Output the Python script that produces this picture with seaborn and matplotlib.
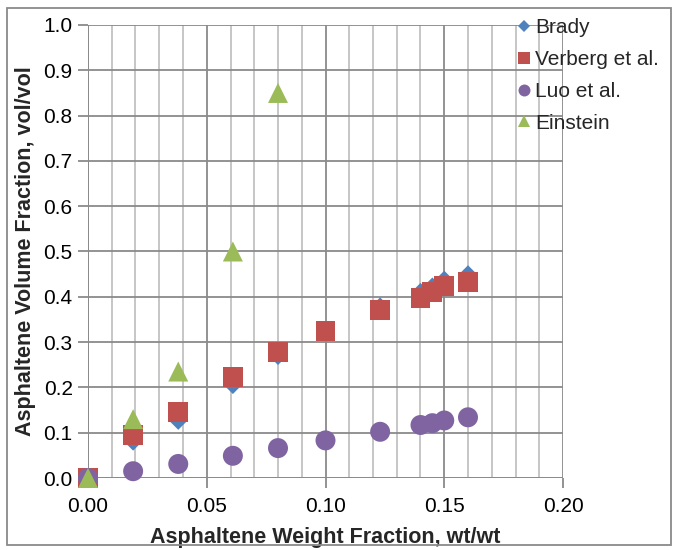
import matplotlib
matplotlib.use("Agg")
import matplotlib.pyplot as plt
from matplotlib.ticker import MultipleLocator, FormatStrFormatter
from matplotlib.lines import Line2D
import seaborn as sns
import pandas as pd

sns.set_theme(style="white")
plt.rcParams["font.family"] = ["Liberation Sans", "DejaVu Sans"]

# Asphaltene weight fractions (wt/wt)
wt_frac = [0.0, 0.019, 0.038, 0.061, 0.080, 0.100, 0.123, 0.140, 0.145, 0.150, 0.160]
wt_frac_einstein = [0.0, 0.019, 0.038, 0.061, 0.080]

# Volume fractions (vol/vol) by model
brady = [0.0, 0.079, 0.125, 0.204, 0.268, 0.325, 0.380, 0.412, 0.424, 0.439, 0.451]
verberg = [0.0, 0.096, 0.146, 0.224, 0.279, 0.325, 0.371, 0.397, 0.411, 0.424, 0.433]
luo = [0.0, 0.015, 0.031, 0.049, 0.066, 0.083, 0.102, 0.117, 0.121, 0.127, 0.134]
einstein = [0.0, 0.130, 0.235, 0.500, 0.850]

# name, x, y, marker, colour, scatter size, legend marker size
series = [
    ("Brady", wt_frac, brady, "D", "#4F81BD", 74, 6.1),
    ("Verberg et al.", wt_frac, verberg, "s", "#C0504D", 207, 8.6),
    ("Luo et al.", wt_frac, luo, "o", "#8064A2", 207, 8.6),
    ("Einstein", wt_frac_einstein, einstein, "^", "#9BBB59", 207, 8.6),
]

GRID_MAJOR = "#8a8a8a"
GRID_MINOR = "#c2c2c2"

fig = plt.figure(figsize=(6.77, 5.5), dpi=100)
ax = fig.add_axes([88 / 677, 1 - 478 / 550, (563 - 88) / 677, (478 - 25) / 550])

for name, xs, ys, mk, col, sz, _ in series:
    df = pd.DataFrame({"x": xs, "y": ys})
    sns.scatterplot(data=df, x="x", y="y", marker=mk, color=col, s=sz,
                    edgecolor="none", linewidth=0, ax=ax, zorder=3, clip_on=False)

ax.set_xlim(0, 0.20)
ax.set_ylim(0, 1.0)
ax.xaxis.set_major_locator(MultipleLocator(0.05))
ax.xaxis.set_minor_locator(MultipleLocator(0.01))
ax.yaxis.set_major_locator(MultipleLocator(0.1))
ax.xaxis.set_major_formatter(FormatStrFormatter("%.2f"))
ax.yaxis.set_major_formatter(FormatStrFormatter("%.1f"))

ax.grid(True, which="major", axis="both", color=GRID_MAJOR, linewidth=1.3, zorder=0)
ax.grid(True, which="minor", axis="x", color=GRID_MINOR, linewidth=1.3, zorder=0)
ax.set_axisbelow(True)
for side in ["top", "right", "bottom", "left"]:
    ax.spines[side].set_visible(False)
ax.axvline(0, color=GRID_MAJOR, linewidth=1.3, zorder=1)
ax.axhline(0, color=GRID_MAJOR, linewidth=1.3, zorder=1)

ax.tick_params(axis="both", which="major", labelsize=15, colors=GRID_MAJOR,
               labelcolor="black", length=7, width=1.3, direction="out",
               bottom=True, left=True)
ax.tick_params(axis="x", which="major", pad=7)
ax.tick_params(axis="y", which="major", pad=4)
ax.tick_params(axis="x", which="minor", length=0)

ax.set_xlabel("Asphaltene Weight Fraction, wt/wt", fontsize=15.5, fontweight="bold")
ax.set_ylabel("Asphaltene Volume Fraction, vol/vol", fontsize=15.5, fontweight="bold")
ax.xaxis.set_label_coords(0.5, (478 - 538) / 453)
ax.xaxis.label.set_va("center")
ax.yaxis.set_label_coords((26 - 88) / 475, 0.5)
ax.yaxis.label.set_va("center")

handles = [Line2D([], [], marker=mk, color=col, linestyle="none",
                  markersize=lms, markeredgewidth=0)
           for _, _, _, mk, col, _, lms in series]
labels = [s[0] for s in series]
fig.legend(handles, labels, loc="upper left", bbox_to_anchor=(506 / 677, 1 - 8 / 550),
           frameon=False, fontsize=15, handlelength=0.75, handletextpad=0.15,
           labelspacing=0.61, borderpad=0)

# outer chart border
fig.add_artist(plt.Rectangle((7 / 677, 1 - 545 / 550), (671 - 7) / 677, (545 - 8) / 550,
                             transform=fig.transFigure, fill=False,
                             edgecolor=GRID_MAJOR, linewidth=1.3))

fig.savefig("out.png", dpi=100)
